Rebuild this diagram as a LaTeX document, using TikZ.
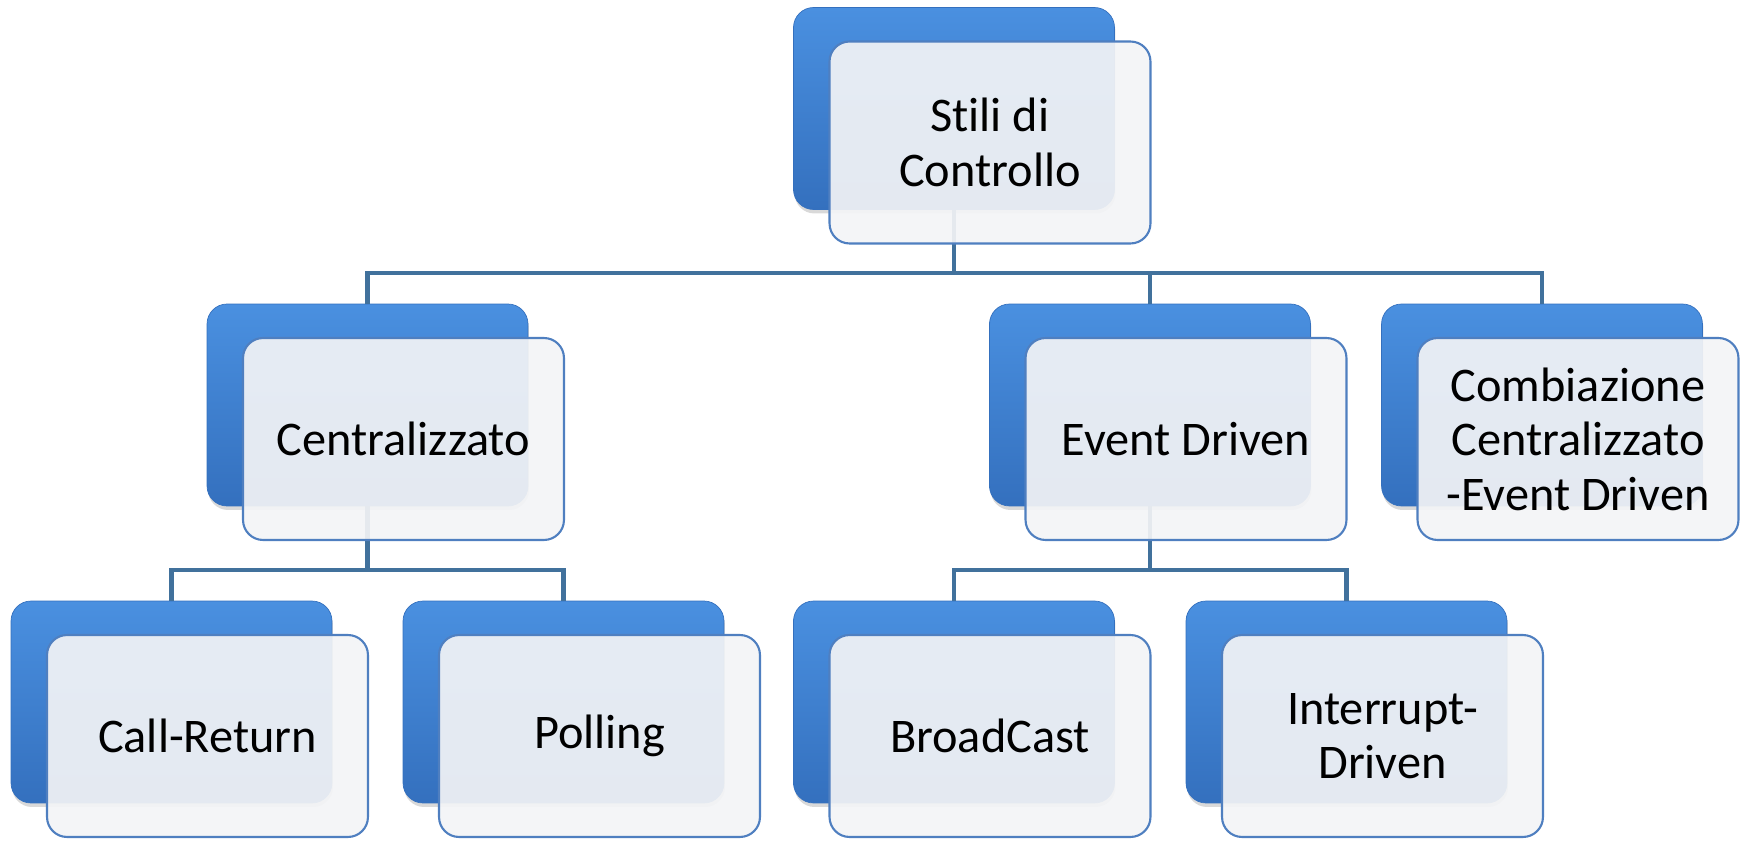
\documentclass[tikz,border=0pt]{standalone}
\usepackage{fontspec}
\setmainfont{Carlito}[Ligatures=NoCommon]
\usepackage{xcolor}
\usetikzlibrary{positioning}
\usetikzlibrary{shadows}
\usetikzlibrary{calc}

\definecolor{blueTop}{HTML}{4A90E0}
\definecolor{blueMid}{HTML}{3F84D6}
\definecolor{blueBot}{HTML}{3470BE}
\definecolor{cardLine}{HTML}{4F7FC0}
\definecolor{cardFill}{HTML}{F3F4F6}
\definecolor{connLine}{HTML}{41719C}

\begin{document}
\begin{tikzpicture}[
	x = 0.02cm, y = -0.02cm,
	backbox/.style={rounded corners=0.4cm, rectangle, draw=blueBot, line width=0.4pt,
		top color=blueTop, middle color=blueMid, bottom color=blueBot,
		minimum width=6.42cm, minimum height=4.04cm,
		drop shadow={shadow xshift=0.02cm, shadow yshift=-0.08cm, opacity=0.3}},
	frontbox/.style={rounded corners=0.4cm, rectangle, draw=cardLine, line width=1.2pt,
		fill=cardFill, fill opacity=0.92, text opacity=1,
		minimum width=6.42cm, minimum height=4.04cm, align=center,
		font=\fontsize{27.5}{31}\selectfont},
	conn/.style={draw=connLine, line width=2.4pt},
	]

	\useasboundingbox (0,0) rectangle (1747,841);

	% back (blue) boxes
	\node[backbox] (top-b)   at (954,108.5) {};
	\node[backbox] (cent-b)  at (367.5,405) {};
	\node[backbox] (event-b) at (1150,405) {};
	\node[backbox] (comb-b)  at (1542,405) {};
	\node[backbox] (call-b)  at (171.5,702) {};
	\node[backbox] (poll-b)  at (563.5,702) {};
	\node[backbox] (broad-b) at (954,702) {};
	\node[backbox] (intr-b)  at (1346.5,702) {};

	% tree connectors
	\draw[conn] (top-b.south) -- ++(0,63) -| (cent-b.north);
	\draw[conn] (top-b.south) -- ++(0,63) -| (event-b.north);
	\draw[conn] (top-b.south) -- ++(0,63) -| (comb-b.north);

	\draw[conn] (cent-b.south) -- ++(0,64) -| (call-b.north);
	\draw[conn] (cent-b.south) -- ++(0,64) -| (poll-b.north);

	\draw[conn] (event-b.south) -- ++(0,64) -| (broad-b.north);
	\draw[conn] (event-b.south) -- ++(0,64) -| (intr-b.north);

	% front cards
	\node[frontbox] (top)   at ([xshift=0.72cm, yshift=-0.68cm] top-b.center)   {Stili di\\Controllo};
	\node[frontbox] (cent)  at ([xshift=0.72cm, yshift=-0.68cm] cent-b.center)  {Centralizzato};
	\node[frontbox] (event) at ([xshift=0.72cm, yshift=-0.68cm] event-b.center) {Event Driven};
	\node[frontbox] (comb)  at ([xshift=0.72cm, yshift=-0.68cm] comb-b.center)  {Combiazione\\Centralizzato\\-Event Driven};
	\node[frontbox] (call)  at ([xshift=0.72cm, yshift=-0.68cm] call-b.center)  {Call-Return};
	\node[frontbox] (poll)  at ([xshift=0.72cm, yshift=-0.68cm] poll-b.center)  {Polling};
	\node[frontbox] (broad) at ([xshift=0.72cm, yshift=-0.68cm] broad-b.center) {BroadCast};
	\node[frontbox] (intr)  at ([xshift=0.72cm, yshift=-0.68cm] intr-b.center)  {Interrupt-\\Driven};

\end{tikzpicture}
\end{document}
